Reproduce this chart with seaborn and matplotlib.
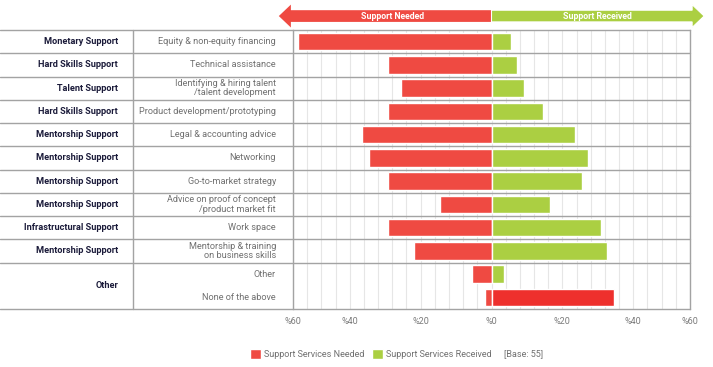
import numpy as np
import pandas as pd
import seaborn as sns
import matplotlib.pyplot as plt
from matplotlib import font_manager
from matplotlib.patches import Polygon, Patch
from matplotlib.transforms import blended_transform_factory

# data (percent of base 55)
subcats = ["Equity & non-equity financing", "Technical assistance",
           "Identifying & hiring talent\n/talent development",
           "Product development/prototyping", "Legal & accounting advice",
           "Networking", "Go-to-market strategy",
           "Advice on proof of concept\n/product market fit", "Work space",
           "Mentorship & training\non business skills", "Other", "None of the above"]
groups = [("Monetary Support", 1), ("Hard Skills Support", 1), ("Talent Support", 1),
          ("Hard Skills Support", 1), ("Mentorship Support", 1), ("Mentorship Support", 1),
          ("Mentorship Support", 1), ("Mentorship Support", 1),
          ("Infrastructural Support", 1), ("Mentorship Support", 1), ("Other", 2)]
needed = [54.5, 29.1, 25.5, 29.1, 36.4, 34.5, 29.1, 14.5, 29.1, 21.8, 5.5, 1.8]
received = [5.5, 7.3, 9.1, 14.5, 23.6, 27.3, 25.5, 16.4, 30.9, 32.7, 3.6, 34.5]
tick_pos = [-56, -40, -20, 0, 20, 40, 56]
tick_labels = ["%60", "%40", "%20", "%0", "%20", "%40", "%60"]

RED = "#EF4A42"
GREEN = "#ABCF42"
RED_DARK = "#EE302D"
LINE = "#A3A3A3"
NAVY = "#1B1B3A"
GREY = "#707070"

sns.set_style("white")
plt.rcParams["font.family"] = ["Roboto", "DejaVu Sans"]

df = pd.DataFrame({"sub": subcats, "needed": needed, "received": received})

W, H = 713, 367
fig = plt.figure(figsize=(W / 100, H / 100), dpi=100)
ax = fig.add_axes([293 / W, 58 / H, 397 / W, 279 / H])

sns.barplot(data=df, y="sub", x=-df["needed"], color=RED, width=0.75,
            saturation=1, ax=ax)
rec_pal = {s: GREEN for s in subcats}
rec_pal["None of the above"] = RED_DARK
sns.barplot(data=df, y="sub", x="received", hue="sub", palette=rec_pal,
            width=0.75, saturation=1, legend=False, ax=ax)

ax.set_xlim(-56, 56)
ax.set_ylim(len(subcats) - 0.5, -0.5)
ax.set_xticks(np.arange(-56, 57, 4), minor=True)
ax.set_xticks(tick_pos)
ax.set_xticklabels(tick_labels, color="#7A7A7A", fontsize=6.5)
ax.tick_params(axis="x", which="both", length=0, pad=6)
ax.set_yticks([])
ax.set_xlabel("")
ax.set_ylabel("")
ax.grid(axis="x", which="both", color="#E6E6E6", lw=0.8)
ax.set_axisbelow(True)
for side in ["top", "bottom"]:
    ax.spines[side].set_visible(False)
for side in ["left", "right"]:
    ax.spines[side].set_color(LINE)
    ax.spines[side].set_linewidth(1)

# table on the left, rows in data coords
tr = blended_transform_factory(fig.transFigure, ax.transData)
right_edge = 690 / W
start = 0
bounds = [-0.5]
for name, n in groups:
    yc = start + (n - 1) / 2
    ax.text(118 / W, yc, name, transform=tr, ha="right", va="center",
            fontsize=6.6, fontweight="bold", color=NAVY)
    start += n
    bounds.append(start - 0.5)
for b in bounds:
    ax.plot([0, right_edge], [b, b], transform=tr, color=LINE, lw=1,
            clip_on=False, zorder=5)
ax.plot([133 / W, 133 / W], [-0.5, len(subcats) - 0.5], transform=tr,
        color=LINE, lw=1, clip_on=False)
for i, s in enumerate(subcats):
    ax.text(276 / W, i, s, transform=tr, ha="right", va="center",
            multialignment="right", fontsize=6.6, color=GREY, linespacing=1.05)

# header arrows
hdr = blended_transform_factory(ax.transData, ax.transAxes)
yc, bh, hh, hl = 1.05, 0.021, 0.041, 3.4
red_arrow = [(0, yc - bh), (-60 + hl, yc - bh), (-60 + hl, yc - hh), (-60, yc),
             (-60 + hl, yc + hh), (-60 + hl, yc + bh), (0, yc + bh)]
green_arrow = [(x * -1, y) for x, y in red_arrow]
ax.add_patch(Polygon(red_arrow, closed=True, facecolor=RED, edgecolor="none",
                     transform=hdr, clip_on=False))
ax.add_patch(Polygon(green_arrow, closed=True, facecolor=GREEN, edgecolor="white",
                     lw=0.8, transform=hdr, clip_on=False))
ax.text(-28, yc, "Support Needed", transform=hdr, ha="center", va="center",
        color="white", fontsize=6.3, fontweight="bold")
ax.text(30, yc, "Support Received", transform=hdr, ha="center", va="center",
        color="white", fontsize=6.3, fontweight="bold")

# legend
handles = [Patch(facecolor=RED, label="Support Services Needed"),
           Patch(facecolor=GREEN, label="Support Services Received")]
leg = fig.legend(handles=handles, loc="center left", bbox_to_anchor=(250 / W, 13 / H),
                 ncol=2, frameon=False, fontsize=6.5, handlelength=1.2,
                 handleheight=1.3, handletextpad=0.4, columnspacing=0.8,
                 labelcolor=GREY, borderaxespad=0, borderpad=0)
fig.canvas.draw()
bb = leg.get_window_extent()
fig.text((bb.x1 + 12) / W, 13 / H, "[Base: 55]", ha="left", va="center",
         fontsize=6.5, color=GREY)

fig.savefig("out.png", dpi=100)
